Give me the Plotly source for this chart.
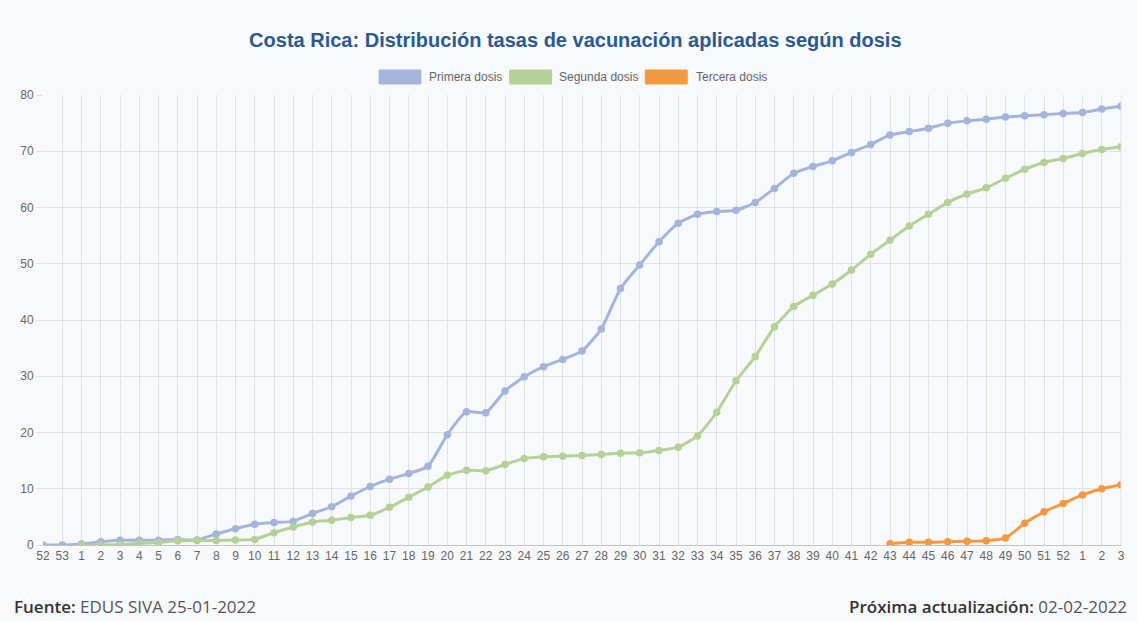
import plotly.graph_objects as go

semanas = ["52", "53"] + [str(i) for i in range(1, 53)] + ["1", "2", "3"]

primera = [0.0, 0.0, 0.2, 0.6, 0.85, 0.85, 0.85, 1.0, 0.9, 1.95, 2.9, 3.7, 4.0, 4.2, 5.6, 6.8,
           8.7, 10.4, 11.7, 12.7, 14.0, 19.6, 23.7, 23.5, 27.4, 29.9, 31.7, 33.0, 34.5, 38.4,
           45.6, 49.8, 53.9, 57.2, 58.8, 59.3, 59.5, 60.9, 63.4, 66.1, 67.3, 68.3, 69.8, 71.2,
           72.9, 73.5, 74.1, 75.0, 75.4, 75.7, 76.1, 76.3, 76.5, 76.7, 76.9, 77.5, 78.0]

segunda = [None, None, 0.0, 0.0, 0.1, 0.3, 0.45, 0.75, 0.8, 0.8, 0.9, 1.0, 2.2, 3.2, 4.1, 4.4,
           4.9, 5.3, 6.7, 8.5, 10.3, 12.4, 13.3, 13.2, 14.3, 15.4, 15.7, 15.8, 15.9, 16.1,
           16.3, 16.4, 16.8, 17.4, 19.4, 23.6, 29.2, 33.5, 38.8, 42.4, 44.4, 46.4, 48.9,
           51.7, 54.2, 56.7, 58.8, 60.9, 62.4, 63.5, 65.2, 66.8, 68.0, 68.7, 69.6, 70.3, 70.8]

tercera = [None] * 44 + [0.23, 0.47, 0.47, 0.6, 0.65, 0.77, 1.24, 3.85, 5.9, 7.4, 8.9, 10.0, 10.7]

series = [
    ("Primera dosis", primera, "#a4b4da"),
    ("Segunda dosis", segunda, "#b6d198"),
    ("Tercera dosis", tercera, "#f39a40"),
]

y_ticks = [0, 10, 20, 30, 40, 50, 60, 70, 80]

x = list(range(len(semanas)))

fig = go.Figure()
for name, vals, color in series:
    fig.add_trace(go.Scatter(
        x=x, y=vals, name=name, mode="lines+markers",
        line=dict(color=color, width=3, shape="spline", smoothing=0.5),
        marker=dict(color=color, size=7.5),
        showlegend=False, connectgaps=False,
        hovertemplate="%{y}<extra>" + name + "</extra>",
    ))

bg = "#f8f9fb"
grid = "#e1e2e5"

W, H = 1137, 621
L, R, T, B = 43, 13, 95, 76
PW, PH = W - L - R, H - T - B


def px(xp):
    return (xp - L) / PW


def py(yp):
    return (H - B - yp) / PH


fig.update_layout(
    width=W, height=H,
    paper_bgcolor=bg, plot_bgcolor=bg,
    margin=dict(l=L, r=R, t=T, b=B),
    font=dict(family="Liberation Sans, Arial, sans-serif", size=12, color="#666666"),
    title=dict(
        text="<b>Costa Rica: Distribución tasas de vacunación aplicadas según dosis</b>",
        x=0.506, xanchor="center", y=1 - 40 / H, yanchor="middle",
        font=dict(family="Liberation Sans, Arial, sans-serif", size=20, color="#2b5b8e"),
    ),
    xaxis=dict(
        range=[0, len(semanas) - 1], tickmode="array", tickvals=x, ticktext=semanas,
        showgrid=True, gridcolor=grid, gridwidth=1, zeroline=False,
        showline=True, linecolor="#c4c4c4", linewidth=1,
        ticks="", tickangle=0,
        tickfont=dict(size=12, color="#666666"), mirror=False,
    ),
    yaxis=dict(
        range=[0, 80], tickmode="array", tickvals=y_ticks,
        showgrid=True, gridcolor=grid, gridwidth=1, zeroline=False,
        showline=False, ticks="outside", ticklen=6, tickcolor=grid,
        tickfont=dict(size=12, color="#666666"),
    ),
)

# right border gridline
fig.add_shape(type="line", xref="paper", yref="paper", x0=1, x1=1, y0=0, y1=1,
              line=dict(color=grid, width=1))

# custom legend (filled boxes like the original)
legend_items = [(380, 428, series[0]), (511, 558, series[1]), (647, 696, series[2])]
for bx, tx, (name, _, color) in legend_items:
    fig.add_shape(type="rect", xref="paper", yref="paper",
                  x0=px(bx), x1=px(bx + 42), y0=py(84), y1=py(70),
                  fillcolor=color, line=dict(color=color, width=1))
    fig.add_annotation(xref="paper", yref="paper", x=px(tx), y=py(77),
                       xanchor="left", yanchor="middle", showarrow=False, text=name,
                       font=dict(size=12, color="#666666", family="Liberation Sans, Arial, sans-serif"))

# footer
fig.add_annotation(xref="paper", yref="paper", x=px(12), y=py(606),
                   xanchor="left", yanchor="middle", showarrow=False,
                   text="<span style='color:#333333;font-weight:600'>Fuente:</span> EDUS SIVA 25-01-2022",
                   font=dict(size=17, color="#555555", family="Open Sans, sans-serif"))
fig.add_annotation(xref="paper", yref="paper", x=px(1132), y=py(606),
                   xanchor="right", yanchor="middle", showarrow=False,
                   text="<span style='color:#333333;font-weight:600'>Próxima actualización:</span> 02-02-2022",
                   font=dict(size=17, color="#555555", family="Open Sans, sans-serif"))

fig.write_html("out.html", config={"displayModeBar": False},
               post_script="document.body.style.margin='0';document.body.style.background='" + bg + "';")
